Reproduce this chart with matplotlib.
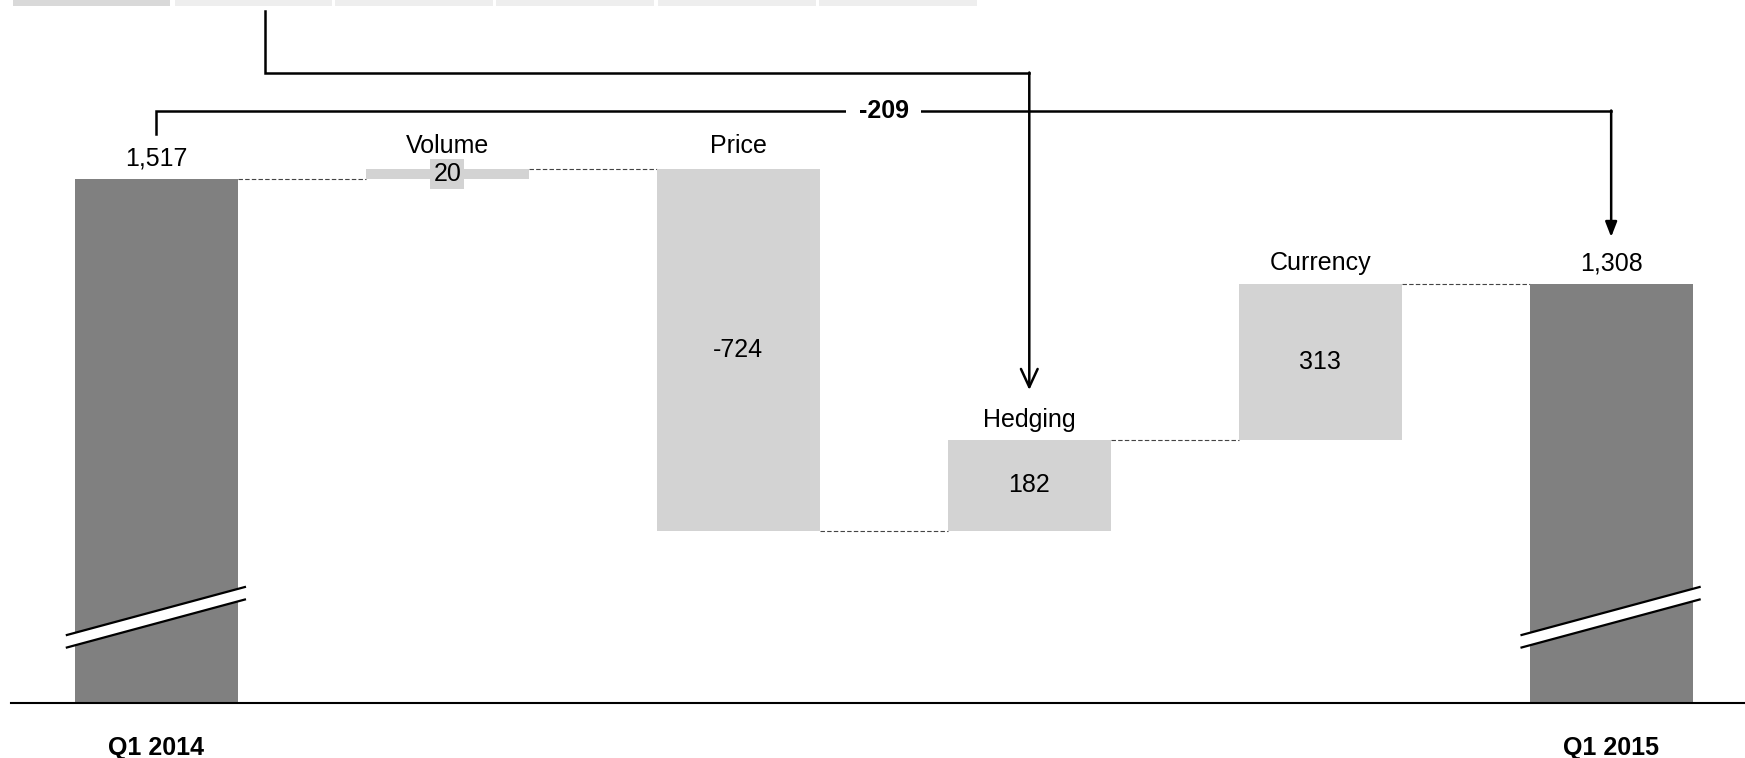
import matplotlib
matplotlib.use("Agg")
import matplotlib.pyplot as plt
from matplotlib.patches import Rectangle, Polygon

plt.rcParams['font.family'] = ['Liberation Sans', 'DejaVu Sans']

# data
categories = ["Q1 2014", "Volume", "Price", "Hedging", "Currency", "Q1 2015"]
changes = [20, -724, 182, 313]
start_total = 1517
end_total = 1308
total_change = -209
value_labels = ["1,517", "20", "-724", "182", "313", "1,308"]

DARK = "#808080"
LIGHT = "#d3d3d3"

W, H = 1745, 758
fig = plt.figure(figsize=(W / 100, H / 100), dpi=100)
ax = fig.add_axes([11 / W, 55 / H, 1 - 11 / W, 703 / H])

ymin = 469
ax.set_xlim(-0.5, 5.46)
ax.set_ylim(ymin, ymin + 703 / 0.5)
bw = 0.56

# waterfall steps
bottoms, tops = [], []
level = start_total
for c in changes:
    new = level + c
    bottoms.append(min(level, new))
    tops.append(max(level, new))
    level = new

x = list(range(len(categories)))
ax.bar(0, start_total, width=bw, color=DARK, zorder=2)
ax.bar(5, end_total, width=bw, color=DARK, zorder=2)
ax.bar(x[1:5], [t - b for t, b in zip(tops, bottoms)], bottom=bottoms,
       width=bw, color=LIGHT, zorder=2)

# connectors
levels = [start_total]
for c in changes:
    levels.append(levels[-1] + c)
for i in range(5):
    ax.plot([i + bw / 2, i + 1 - bw / 2], [levels[i], levels[i]],
            color="#444444", lw=0.8, ls=(0, (4, 2)), zorder=1)

# labels
fs = 18
ax.annotate(value_labels[0], (0, start_total), xytext=(0, 6), textcoords="offset points",
            ha="center", va="bottom", fontsize=fs)
ax.annotate(value_labels[5], (5, end_total), xytext=(0, 6), textcoords="offset points",
            ha="center", va="bottom", fontsize=fs)
for i in range(4):
    xi = i + 1
    ax.annotate(categories[xi], (xi, tops[i]), xytext=(0, 8 if i < 2 else 6),
                textcoords="offset points", ha="center", va="bottom", fontsize=fs)
    mid = (tops[i] + bottoms[i]) / 2
    if i == 0:
        ax.text(xi, mid, value_labels[xi], ha="center", va="center", fontsize=fs, zorder=3,
                bbox=dict(boxstyle="square,pad=0.12", fc=LIGHT, ec="none"))
    else:
        ax.text(xi, mid, value_labels[xi], ha="center", va="center", fontsize=fs, zorder=3)

# axis break marks
for xc, top in [(0, start_total), (5, end_total)]:
    x0, x1 = xc - bw / 2 - 0.028, xc + bw / 2 + 0.024
    ya0, ya1 = 605, 701
    gap = 25
    ax.add_patch(Polygon([[x0, ya0], [x1, ya1], [x1, ya1 - gap], [x0, ya0 - gap]],
                         closed=True, fc="white", ec="none", zorder=3))
    ax.plot([x0, x1], [ya0, ya1], color="black", lw=1.6, zorder=4)
    ax.plot([x0, x1], [ya0 - gap, ya1 - gap], color="black", lw=1.6, zorder=4)

# total change bracket
yb = 1653
ax.plot([0, 0, 5], [start_total + 90, yb, yb], color="black", lw=1.8,
        solid_joinstyle="miter", zorder=5, clip_on=False)
ax.annotate("", xy=(5, end_total + 93), xytext=(5, yb + 1),
            arrowprops=dict(arrowstyle="-|>,head_length=0.9,head_width=0.35",
                            color="black", lw=1.8, shrinkA=0, shrinkB=0), zorder=5)
ax.text(2.5, yb, f"{total_change}", ha="center", va="center", fontsize=fs,
        fontweight="bold", zorder=6,
        bbox=dict(boxstyle="square,pad=0.5", fc="white", ec="none"))

# second arrow from the top tab to Hedging
yt = 1729
ax.plot([0.373, 0.373, 3], [ymin + 703 / 0.5 - 22, yt, yt], color="black", lw=1.8,
        solid_joinstyle="miter", zorder=7, clip_on=False)
ax.annotate("", xy=(3, 1095), xytext=(3, yt + 1),
            arrowprops=dict(arrowstyle="->,head_length=1.3,head_width=0.6",
                            color="black", lw=1.8, shrinkA=0, shrinkB=0), zorder=7)

# axes styling
for s in ["top", "right", "left"]:
    ax.spines[s].set_visible(False)
ax.spines["bottom"].set_linewidth(1.5)
ax.set_yticks([])
ax.set_xticks([0, 5])
ax.set_xticklabels([categories[0], categories[5]], fontsize=fs, fontweight="bold")
ax.tick_params(axis="x", length=0, pad=24)

# tab strip at the top
tabs = [(13, 170), (175, 332), (335, 493), (496, 654), (658, 816), (819, 977)]
for k, (a, b) in enumerate(tabs):
    fig.patches.append(Rectangle((a / W, 1 - 6 / H), (b - a) / W, 6 / H,
                                 transform=fig.transFigure,
                                 fc="#d9d9d9" if k == 0 else "#eeeeee", ec="none"))

fig.savefig("out.png", dpi=100)
